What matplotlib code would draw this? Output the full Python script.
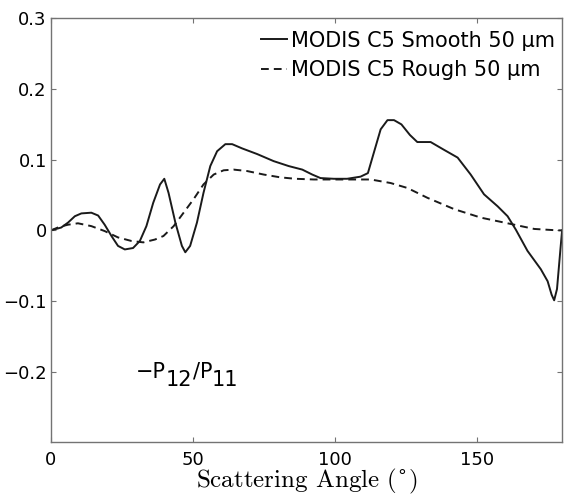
import matplotlib
matplotlib.use('Agg')
from matplotlib import pyplot as plt

plt.rcParams['font.family'] = ['DejaVu Sans']

# values
smooth_x = [0, 3.6, 6, 8.4, 10.7, 14.2, 16.6, 18.9, 21.3, 23.6, 26, 28.9, 31.3, 33.6,
            36, 38.4, 39.9, 41.4, 43.8, 46.1, 47.3, 49, 51.4, 53.7, 56.1, 58.5, 61.4,
            63.8, 67.3, 72.6, 78.4, 83.7, 88.5, 92, 94.9, 99.6, 104.3, 109, 111.6,
            113.7, 116.1, 118.5, 120.8, 123.4, 126.4, 129, 133.7, 138.4, 143.2,
            147.8, 152.5, 157.3, 160.8, 163.7, 167.8, 172.5, 174.9, 176.3, 177.2,
            178.2, 179.4, 180]
smooth_y = [0, 0.004, 0.011, 0.020, 0.024, 0.025, 0.021, 0.008, -0.008, -0.022,
            -0.027, -0.025, -0.015, 0.006, 0.039, 0.065, 0.073, 0.053, 0.011, -0.022,
            -0.031, -0.022, 0.011, 0.053, 0.091, 0.112, 0.122, 0.122, 0.116, 0.108,
            0.098, 0.091, 0.086, 0.079, 0.074, 0.073, 0.073, 0.076, 0.081, 0.110,
            0.143, 0.156, 0.156, 0.150, 0.135, 0.125, 0.125, 0.114, 0.103, 0.079,
            0.051, 0.034, 0.020, 0.001, -0.029, -0.055, -0.072, -0.091, -0.099,
            -0.083, -0.027, 0.0]

rough_x = [0, 3, 6, 9.5, 14.2, 18.9, 23.6, 28.3, 32.5, 36.6, 39.6, 43.2, 46.7, 50.2,
           53.7, 57.3, 60.8, 64.3, 69, 74.9, 80.8, 86, 92.6, 98.5, 104.3, 112.6,
           119.6, 125.5, 132.6, 142, 151.4, 160.8, 170.2, 178.4, 180]
rough_y = [0, 0.005, 0.008, 0.010, 0.006, -0.001, -0.010, -0.015, -0.017, -0.013,
           -0.008, 0.006, 0.025, 0.044, 0.065, 0.079, 0.085, 0.086, 0.084, 0.079,
           0.075, 0.073, 0.072, 0.072, 0.072, 0.072, 0.067, 0.060, 0.046, 0.030,
           0.018, 0.010, 0.002, 0.0, 0.0]

yticks = [-0.2, -0.1, 0, 0.1, 0.2, 0.3]
ytick_labels = ['\u22120.2', '\u22120.1', '0', '0.1', '0.2', '0.3']

fig = plt.figure(figsize=(5.73, 4.97), dpi=100)
ax = fig.add_axes([0.089, 0.11, 0.892, 0.853])

ax.plot(smooth_x, smooth_y, color='#1a1a1a', lw=1.4, label='MODIS C5 Smooth 50 \u03bcm')
ax.plot(rough_x, rough_y, color='#1a1a1a', lw=1.4, ls=(0, (4, 2.6)),
        label='MODIS C5 Rough 50 \u03bcm')

ax.set_xlim(0, 180)
ax.set_ylim(-0.3, 0.3)
ax.set_xticks([0, 50, 100, 150])
ax.set_yticks(yticks)
ax.set_yticklabels(ytick_labels)
ax.tick_params(direction='in', top=True, right=True, length=3.6, width=0.8,
               color='0.45', labelsize=13)
ax.tick_params(axis='x', pad=6)
ax.tick_params(axis='y', pad=3)
for s in ax.spines.values():
    s.set_color('0.45')
    s.set_linewidth(1.0)

plt.rcParams['mathtext.fontset'] = 'cm'
ax.set_xlabel('Scattering Angle ($^{\\circ}$)', family=['cmr10', 'DejaVu Serif'],
              fontsize=18, labelpad=-1)

# -P12/P11 label, subscripts drawn as separate texts
t1 = ax.text(30, -0.2, '\u2212P', fontsize=15, va='center')
t2 = ax.annotate('12', xy=(1, 0), xycoords=t1, xytext=(0, -6),
                 textcoords='offset points', fontsize=15, va='bottom')
t3 = ax.annotate('/P', xy=(1, 0), xycoords=t2, xytext=(0, 6),
                 textcoords='offset points', fontsize=15, va='bottom')
t4 = ax.annotate('11', xy=(1, 0), xycoords=t3, xytext=(0, -6),
                 textcoords='offset points', fontsize=15, va='bottom')

ax.legend(loc='upper right', bbox_to_anchor=(1.0, 0.988), frameon=False, fontsize=15,
          handlelength=1.25, handletextpad=0.2, borderaxespad=0.15,
          labelspacing=0.45, borderpad=0.2)

fig.savefig('out.png', dpi=100)
